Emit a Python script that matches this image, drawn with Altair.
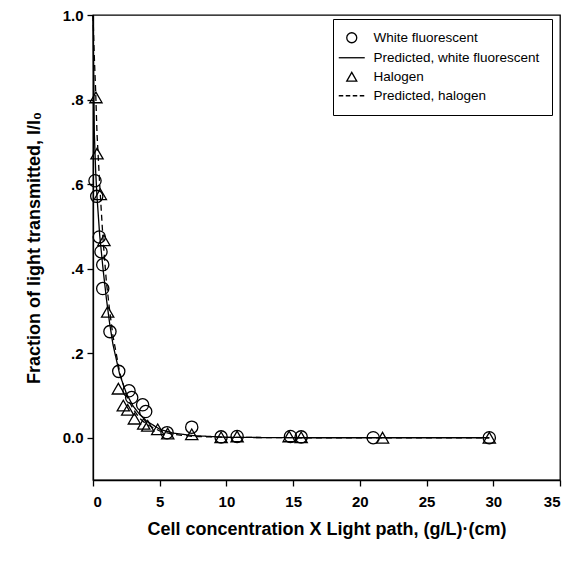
import altair as alt
import pandas as pd

# Measured points
wf_x = [0.15, 0.28, 0.47, 0.6, 0.73, 0.73, 1.27, 1.93, 2.7, 2.9, 3.72, 3.95, 5.55, 7.4, 9.6, 10.8, 14.8, 15.6, 21.0, 29.7]
wf_y = [0.608, 0.571, 0.475, 0.44, 0.409, 0.353, 0.251, 0.157, 0.111, 0.095, 0.078, 0.062, 0.012, 0.025, 0.002, 0.003, 0.003, 0.002, 0.0, 0.0]

hal_x = [0.22, 0.3, 0.55, 0.82, 1.1, 1.9, 2.27, 2.6, 3.1, 3.8, 4.1, 4.85, 5.6, 7.4, 9.6, 10.8, 14.7, 15.6, 21.7, 29.7]
hal_y = [0.805, 0.672, 0.576, 0.467, 0.298, 0.116, 0.076, 0.066, 0.045, 0.033, 0.028, 0.02, 0.01, 0.008, 0.001, 0.003, 0.003, 0.001, 0.0, 0.0]

# Predicted curves
pred_x = [0.0, 0.1, 0.2, 0.3, 0.5, 0.75, 1.0, 1.25, 1.5, 2.0, 2.5, 3.0, 3.5, 4.0, 5.0, 6.0, 7.5, 10.0, 15.0, 20.0, 29.7]
pred_wf_y = [1.0, 0.72, 0.63, 0.57, 0.48, 0.40, 0.33, 0.27, 0.22, 0.15, 0.105, 0.075, 0.055, 0.04, 0.02, 0.011, 0.005, 0.001, 0.0, 0.0, 0.0]
pred_hal_y = [1.0, 0.9, 0.82, 0.72, 0.6, 0.47, 0.37, 0.30, 0.24, 0.155, 0.10, 0.068, 0.046, 0.032, 0.016, 0.008, 0.003, 0.001, 0.0, 0.0, 0.0]

labels = ["White fluorescent", "Predicted, white fluorescent", "Halogen", "Predicted, halogen"]
shapes = [
    "circle",
    "M-2.6,0L2.6,0",
    "triangle-up",
    "M-2.6,0L-1.7,0M-1.2,0L-0.3,0M0.2,0L1.1,0M1.6,0L2.5,0",
]

pts = pd.DataFrame({
    "x": wf_x + hal_x,
    "y": wf_y + hal_y,
    "series": [labels[0]] * len(wf_x) + [labels[2]] * len(hal_x),
})
pred = pd.DataFrame({
    "x": pred_x + pred_x,
    "y": pred_wf_y + pred_hal_y,
    "series": [labels[1]] * len(pred_x) + [labels[3]] * len(pred_x),
})

YLAB = "datum.value == 0 ? '0.0' : datum.value == 1 ? '1.0' : replace(format(datum.value, '.1f'), '0.', '.')"
FONT = "Liberation Sans, Arial, sans-serif"

xs = alt.Scale(domain=[0, 35], nice=False, zero=False)
ys = alt.Scale(domain=[-0.1, 1.0], nice=False, zero=False)

xax = alt.Axis(values=[0, 5, 10, 15, 20, 25, 30, 35], title="Cell concentration X Light path, (g/L)·(cm)",
               grid=False, tickSize=6, labelPadding=8, titlePadding=11)
yax = alt.Axis(values=[0.0, 0.2, 0.4, 0.6, 0.8, 1.0], title="Fraction of light transmitted, I/I₀",
               grid=False, tickSize=6, labelExpr=YLAB, labelPadding=4, titlePadding=19)

lines = alt.Chart(pred).mark_line(color="black", strokeWidth=1.3).encode(
    x=alt.X("x:Q", scale=xs, axis=xax),
    y=alt.Y("y:Q", scale=ys, axis=yax),
    strokeDash=alt.StrokeDash("series:N", scale=alt.Scale(domain=[labels[1], labels[3]], range=[[1, 0], [6, 4]]), legend=None),
    detail="series:N",
)

points = alt.Chart(pts).mark_point(filled=False, color="black", strokeWidth=1.3, size=150, opacity=1).encode(
    x=alt.X("x:Q", scale=xs),
    y=alt.Y("y:Q", scale=ys),
    shape=alt.Shape("series:N", scale=alt.Scale(domain=labels, range=shapes),
                    legend=alt.Legend(title=None, orient="none", legendX=240, legendY=4,
                                      strokeColor="black", padding=12, symbolSize=100,
                                      symbolStrokeColor="black", symbolFillColor="transparent",
                                      symbolStrokeWidth=1.3,
                                      labelFontSize=13.5, labelFont=FONT, labelOffset=15,
                                      rowPadding=4, labelLimit=400)),
)

chart = alt.layer(lines, points).properties(
    width=467, height=465,
    autosize=alt.AutoSizeParams(type="none"),
    padding={"left": 85, "top": 7, "right": 9, "bottom": 70},
).configure_view(stroke="black", strokeWidth=1.3).configure_axis(
    domainColor="black", tickColor="black", labelColor="black", titleColor="black",
    labelFont=FONT, titleFont=FONT,
    labelFontSize=15, labelFontWeight="bold", titleFontSize=18, titleFontWeight="bold",
    domainWidth=1.3, tickWidth=1.3,
)

chart.save("out.html", embed_options={"renderer": "svg", "actions": False})
